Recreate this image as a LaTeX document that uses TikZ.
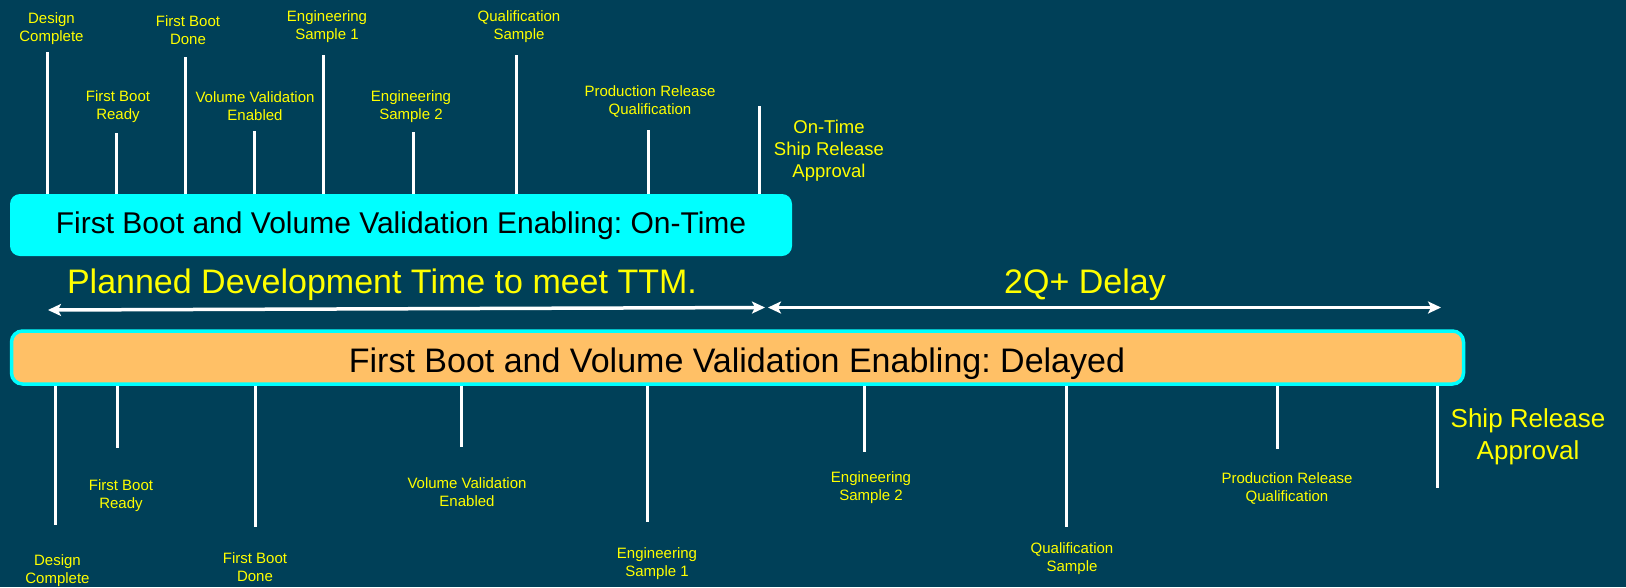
\documentclass[tikz,border=0pt]{standalone}
\usepackage{fontspec}
\setmainfont{Liberation Sans}
\usetikzlibrary{arrows.meta}
\definecolor{bg}{RGB}{0,64,88}
\definecolor{ylw}{RGB}{255,255,0}
\definecolor{orng}{RGB}{255,192,102}
\definecolor{cyn}{RGB}{0,255,255}
\frenchspacing
\begin{document}
\begin{tikzpicture}[x=1pt,y=-1pt,
  tick/.style={draw=white,line width=3pt},
  smalllbl/.style={text=ylw,font=\fontsize{15}{18}\selectfont,align=center,inner sep=0pt},
  midlbl/.style={text=ylw,font=\fontsize{18.5}{22}\selectfont,align=center,inner sep=0pt},
  largelbl/.style={text=ylw,font=\fontsize{26}{32}\selectfont,align=center,inner sep=0pt},
  biglbl/.style={text=ylw,font=\fontsize{34}{40}\selectfont,inner sep=0pt,anchor=base},
  boxtext/.style={text=black,inner sep=0pt,anchor=base},
  dimarrow/.style={draw=white,line width=3.5pt,{Stealth[length=13pt,width=12pt,inset=3pt]}-{Stealth[length=13pt,width=12pt,inset=3pt]}}
]
\fill[bg] (0,0) rectangle (1626,587);
\useasboundingbox (0,0) rectangle (1626,587);

% boxes
\node[fill=cyn,rounded corners=10pt,minimum width=782pt,minimum height=62pt,inner sep=0pt] (ontime) at (401,225) {};
\node[boxtext,font=\fontsize{30}{36}\selectfont] (ontimetxt) at (401,233) {First Boot and Volume Validation Enabling: On-Time};

\node[draw=cyn,line width=3.5pt,fill=orng,rounded corners=11pt,minimum width=1452pt,minimum height=53pt,inner sep=0pt] (delayed) at (737.5,357.5) {};
\node[boxtext,font=\fontsize{34}{40}\selectfont] (delayedtxt) at (737,372) {First Boot and Volume Validation Enabling: Delayed};

% top ticks
\coordinate (ut1) at (47,52);
\coordinate (ut2) at (116.6,133);
\coordinate (ut3) at (185.7,57);
\coordinate (ut4) at (254,131);
\coordinate (ut5) at (323,55);
\coordinate (ut6) at (413,132);
\coordinate (ut7) at (516.7,55);
\coordinate (ut8) at (648.5,130);
\coordinate (ut9) at (759,106);
\foreach \i in {1,...,9}{\draw[tick] (ut\i) -- (ut\i |- ontime.north);}

% top labels
\node[smalllbl] (ul1) at (51.5,29) {Design\\Complete};
\node[smalllbl] (ul2) at (118,107) {First Boot\\Ready};
\node[smalllbl] (ul3) at (188,30) {First Boot\\Done};
\node[smalllbl] (ul4) at (255,106) {Volume Validation\\Enabled};
\node[smalllbl] (ul5) at (327,27) {Engineering\\Sample 1};
\node[smalllbl] (ul6) at (411,106.5) {Engineering\\Sample 2};
\node[smalllbl] (ul7) at (519,27) {Qualification\\Sample};
\node[smalllbl] (ul8) at (650,101) {Production Release\\Qualification};
\node[midlbl] (ul9) at (829,151) {On-Time\\Ship Release\\Approval};

% bottom ticks
\coordinate (lt1) at (55,525);
\coordinate (lt2) at (117.7,448);
\coordinate (lt3) at (255.7,527);
\coordinate (lt4) at (461,447);
\coordinate (lt5) at (647.5,522);
\coordinate (lt6) at (864,452);
\coordinate (lt7) at (1066,527);
\coordinate (lt8) at (1277,449);
\coordinate (lt9) at (1437,488);
\foreach \i in {1,...,9}{\draw[tick] (delayed.south -| lt\i) -- (lt\i);}

% bottom labels
\node[smalllbl] (ll1) at (57.5,571) {Design\\Complete};
\node[smalllbl] (ll2) at (121,496) {First Boot\\Ready};
\node[smalllbl] (ll3) at (255,567) {First Boot\\Done};
\node[smalllbl] (ll4) at (467,492) {Volume Validation\\Enabled};
\node[smalllbl] (ll5) at (657,564) {Engineering\\Sample 1};
\node[smalllbl] (ll6) at (871,488) {Engineering\\Sample 2};
\node[smalllbl] (ll7) at (1072,558.5) {Qualification\\Sample};
\node[smalllbl] (ll8) at (1287,488) {Production Release\\Qualification};
\node[largelbl] (ll9) at (1528,437) {Ship Release\\Approval};

% arrows
\coordinate (pa) at (48,310);
\coordinate (pb) at (765,307.5);
\coordinate (da) at (768,307.5);
\coordinate (db) at (1441,307.5);
\draw[dimarrow] (pa) -- (pb);
\draw[dimarrow] (da) -- (db);
\node[biglbl] (plan) at (382,293) {Planned Development Time to meet TTM.};
\node[biglbl] (delay) at (1085,293) {2Q+ Delay};
\end{tikzpicture}
\end{document}
